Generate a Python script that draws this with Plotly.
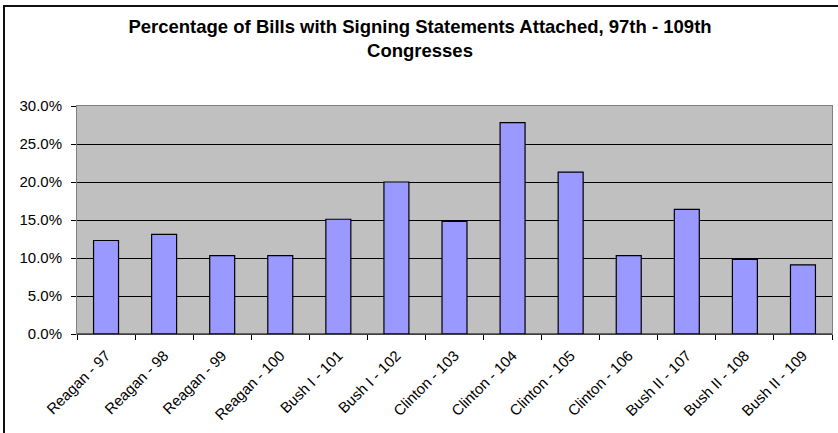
import plotly.graph_objects as go

# Share of bills carrying a presidential signing statement, by Congress
congresses = [
    "Reagan - 97", "Reagan - 98", "Reagan - 99", "Reagan - 100",
    "Bush I - 101", "Bush I - 102",
    "Clinton - 103", "Clinton - 104", "Clinton - 105", "Clinton - 106",
    "Bush II - 107", "Bush II - 108", "Bush II - 109",
]
pct_with_statements = [12.3, 13.1, 10.3, 10.3, 15.1, 20.0, 14.8, 27.8, 21.3, 10.3, 16.4, 9.8, 9.1]
y_ticks = [0, 5, 10, 15, 20, 25, 30]
y_tick_text = [f"{v:.1f}%" for v in y_ticks]

W, H = 838, 433
ML, MR, MT, MB = 77, 6, 106, 99
plot_w = W - ML - MR
plot_h = H - MT - MB

fig = go.Figure(
    go.Bar(
        x=congresses,
        y=pct_with_statements,
        marker=dict(color="#9999FF", line=dict(color="#000000", width=1.2)),
        width=0.43,
    )
)

# Frame around the whole chart (open on the right and bottom edges of the page)
def px_to_paper_x(px):
    return (px - ML) / plot_w

def px_to_paper_y(py):
    return (H - MB - py) / plot_h

fig.add_shape(
    type="rect", xref="paper", yref="paper",
    x0=px_to_paper_x(4), x1=px_to_paper_x(860),
    y0=px_to_paper_y(460), y1=px_to_paper_y(6),
    line=dict(color="#111111", width=2), layer="below",
)

# Bottom axis line drawn dark over the grey frame of the plot area
fig.add_shape(
    type="line", xref="paper", yref="paper",
    x0=0, x1=1, y0=0, y1=0,
    line=dict(color="#000000", width=1.2),
)

fig.update_layout(
    width=W, height=H,
    margin=dict(l=ML, r=MR, t=MT, b=MB),
    paper_bgcolor="white",
    plot_bgcolor="#C0C0C0",
    showlegend=False,
    font=dict(family="Liberation Sans, Arial, sans-serif", color="black", size=15),
    title=dict(
        text="<b>Percentage of Bills with Signing Statements Attached, 97th - 109th<br>Congresses</b>",
        x=420 / W, xanchor="center",
        y=1 - 33 / H, yanchor="top",
        font=dict(size=18.5, family="Liberation Sans, Arial, sans-serif"),
    ),
)

fig.update_xaxes(
    type="category",
    tickangle=-45,
    tickson="boundaries",
    ticks="outside", ticklen=5, tickcolor="#000000", tickwidth=1,
    ticklabelstandoff=6,
    showline=True, linecolor="#808080", linewidth=1, mirror=True,
    showgrid=False,
    tickfont=dict(size=15),
)

fig.update_yaxes(
    range=[0, 30],
    tickvals=y_ticks, ticktext=y_tick_text,
    ticks="outside", ticklen=5, tickcolor="#000000", tickwidth=1,
    ticklabelstandoff=6,
    showline=True, linecolor="#808080", linewidth=1, mirror=True,
    showgrid=True, gridcolor="#000000", gridwidth=1,
    zeroline=False,
    tickfont=dict(size=15),
)

fig.write_html("out.html")
